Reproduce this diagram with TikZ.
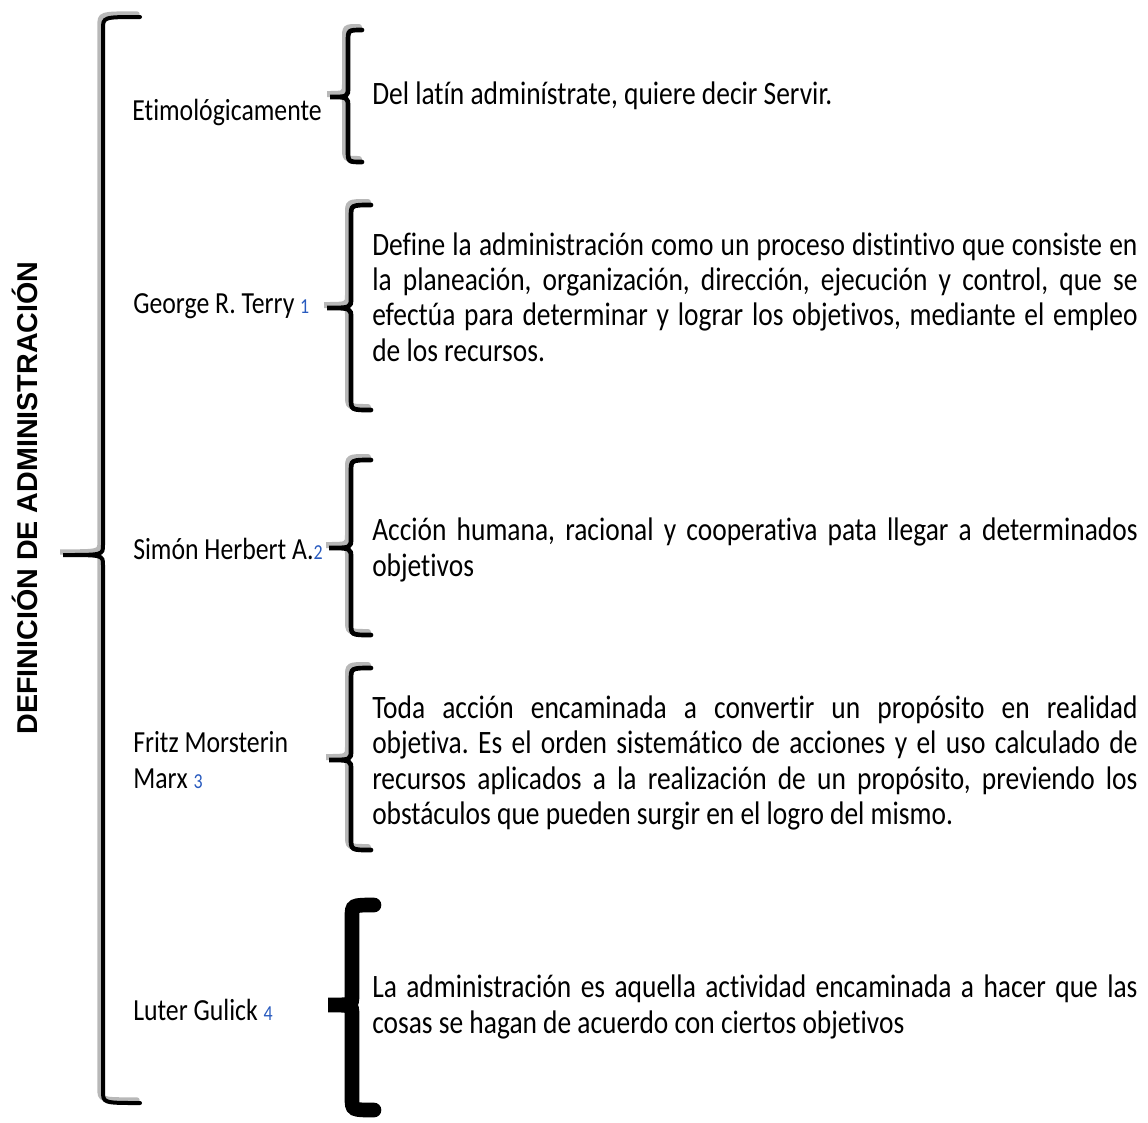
\documentclass[tikz,border=0pt]{standalone}
\usepackage{fontspec}
\setmainfont{Carlito}[FakeStretch=0.84, Ligatures=NoCommon]
\newfontfamily\titlefont{Liberation Sans}
\definecolor{refblue}{RGB}{40,90,190}
\hyphenpenalty=10000
\exhyphenpenalty=10000
\frenchspacing

% path of one curly brace: x, top, tip, bottom, tip length, hook length
\newcommand{\bracepath}[6]{(#1+#6,#2) .. controls (#1,#2) .. (#1,#2+12) -- (#1,#3-10) .. controls (#1,#3) .. (#1-#5,#3) .. controls (#1,#3) .. (#1,#3+10) -- (#1,#4-12) .. controls (#1,#4) .. (#1+#6,#4)}
\newcommand{\curlybrace}[7][curly]{%
  \draw[#1 shadow, shift={(-3,-3)}] \bracepath{#2}{#3}{#4}{#5}{#6}{#7};
  \draw[#1] \bracepath{#2}{#3}{#4}{#5}{#6}{#7};
}
\newcommand{\refnum}[1]{\textcolor{refblue}{\fontsize{16}{16}\selectfont #1}}

\begin{document}
\begin{tikzpicture}[
    x=0.75pt, y=-0.75pt,
    curly/.style={line width=3.5pt, line cap=round, black},
    curly shadow/.style={line width=4.5pt, line cap=round, black!28},
    big curly/.style={line width=3pt, line cap=round, black},
    big curly shadow/.style={line width=4pt, line cap=round, black!28},
    thick curly/.style={line width=11pt, line cap=round, black},
    thick curly shadow/.style={draw=none},
    author/.style={anchor=west, inner sep=0pt, align=left,
        font=\fontsize{23}{27}\selectfont},
    definition/.style={anchor=west, inner sep=0pt, text width=574pt,
        align=justify, font=\fontsize{24.5}{26.5}\selectfont},
    title/.style={rotate=90, inner sep=0pt,
        font=\titlefont\bfseries\fontsize{21.5}{21.5}\selectfont}
]
    \useasboundingbox (0,0) rectangle (1148,1122);

    % main brace and title
    \node[title] (title) at (25,498) {DEFINICIÓN DE ADMINISTRACIÓN};
    \curlybrace[big curly]{103}{17}{555}{1103}{40}{37}

    % authors
    \node[author, anchor=east] (etimo) at (322,112) {Etimológicamente};
    \node[author] (terry) at (133,306) {George R. Terry \refnum{1}};
    \node[author] (simon) at (133,549) {Simón Herbert A.\refnum{2}};
    \node[author] (fritz) at (133,760) {Fritz Morsterin\\Marx \refnum{3}};
    \node[author] (gulick) at (133,1010) {Luter Gulick \refnum{4}};

    % small braces
    \curlybrace{348}{30}{97}{162}{18}{14}
    \curlybrace{351}{205}{308}{410}{24}{20}
    \curlybrace{351}{460}{548}{635}{22}{20}
    \curlybrace{351}{668}{760}{850}{22}{20}
    \curlybrace[thick curly]{352}{905}{1005}{1110}{24}{22}

    % definitions
    \node[definition] (etimo def) at (372,96)
        {Del latín adminístrate, quiere decir Servir.};
    \node[definition] (terry def) at (372,297)
        {Define la administración como un proceso distintivo que consiste en\linebreak
         la planeación, organización, dirección, ejecución y control, que se\linebreak
         efectúa para determinar y lograr los objetivos, mediante el empleo\linebreak
         de los recursos.};
    \node[definition] (simon def) at (372,550)
        {Acción humana, racional y cooperativa pata llegar a determinados\linebreak
         objetivos};
    \node[definition] (fritz def) at (372,763)
        {Toda acción encaminada a convertir un propósito en realidad\linebreak
         objetiva. Es el orden sistemático de acciones y el uso calculado de\linebreak
         recursos aplicados a la realización de un propósito, previendo los\linebreak
         obstáculos que pueden surgir en el logro del mismo.};
    \node[definition] (gulick def) at (372,1007)
        {La administración es aquella actividad encaminada a hacer que las\linebreak
         cosas se hagan de acuerdo con ciertos objetivos};
\end{tikzpicture}
\end{document}
